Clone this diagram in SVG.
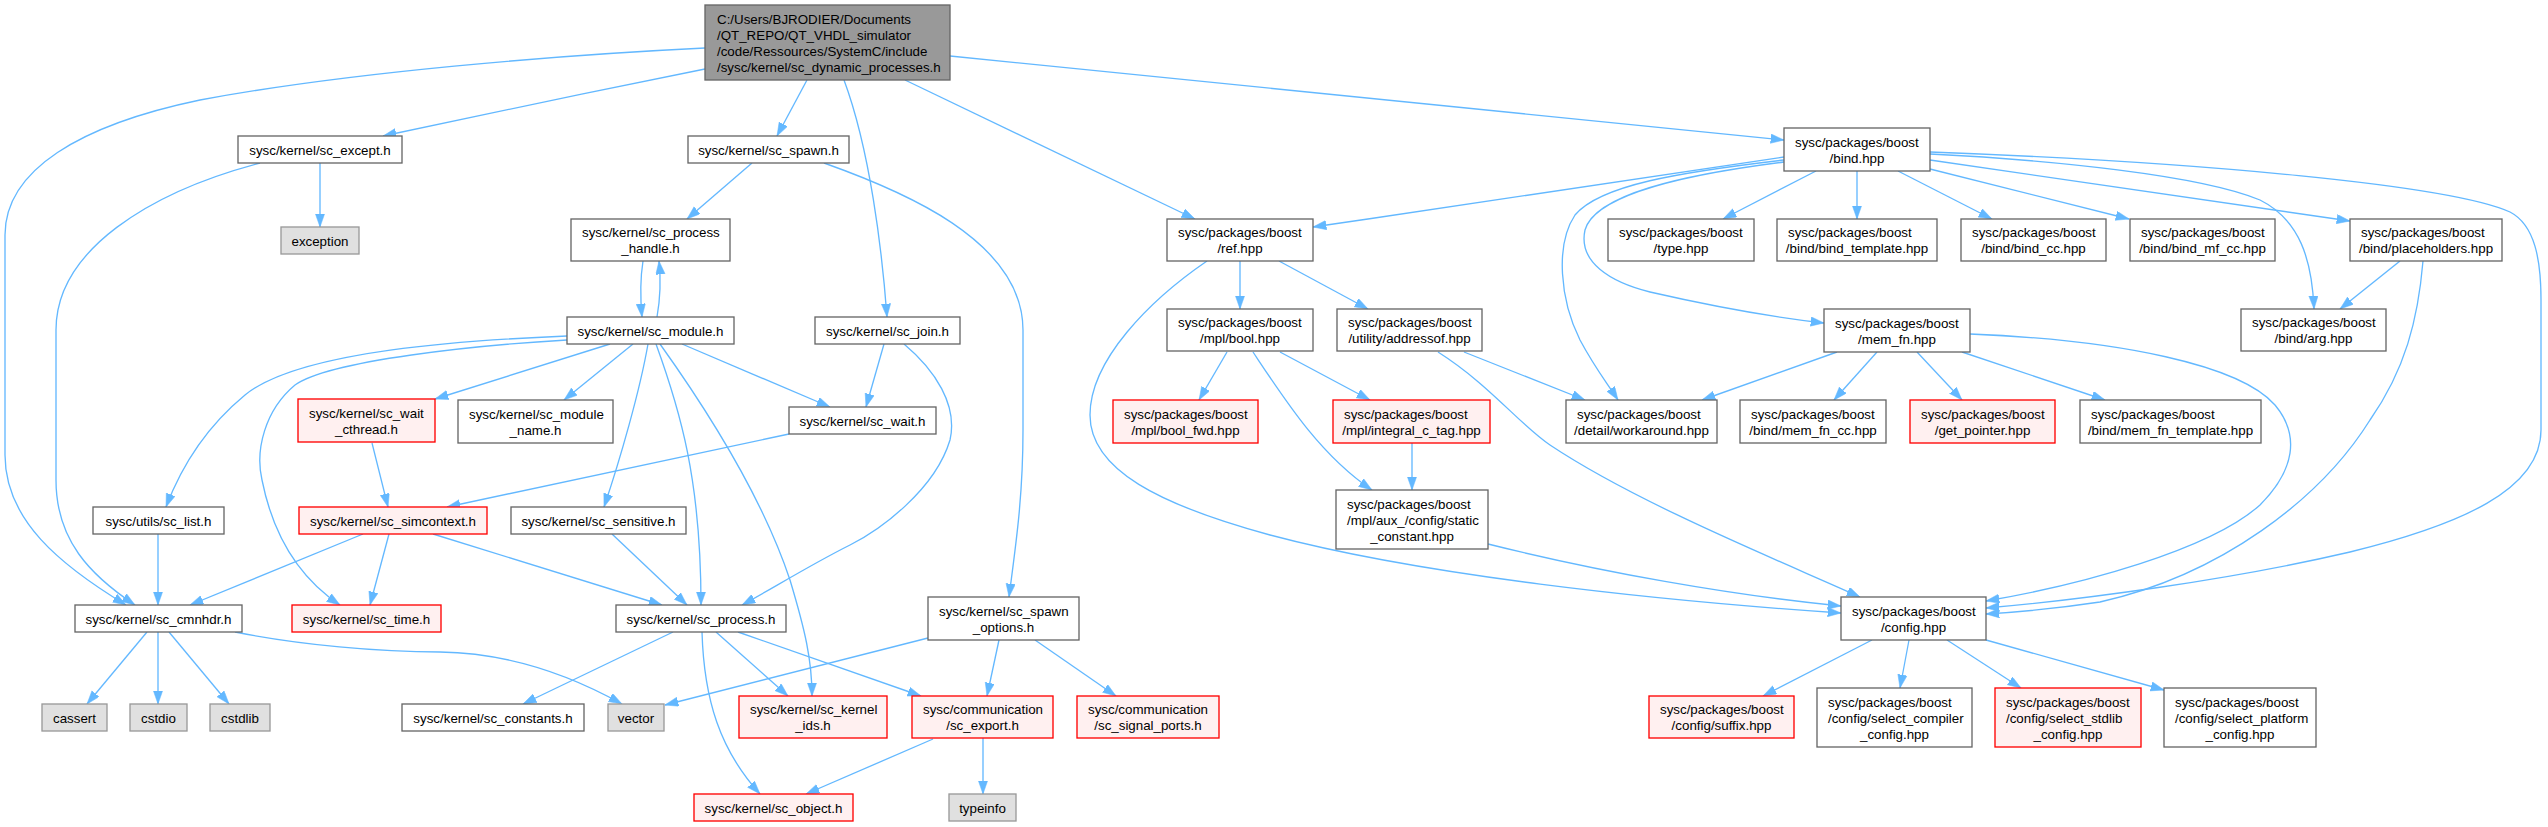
<svg xmlns="http://www.w3.org/2000/svg" width="2548" height="827" viewBox="0 0 2548 827">
<style>
text{font-family:"Liberation Sans",Arial,Helvetica,sans-serif;font-size:13.33px;fill:#000}
.c{text-anchor:middle}
rect{stroke-width:1.33}
.n rect{fill:#fff;stroke:#666}
.r rect{fill:#999;stroke:#666}
.g rect{fill:#e0e0e0;stroke:#999}
.t rect{fill:#fff0f0;stroke:#f00}
#edges path{fill:none;stroke:#63b8ff;stroke-width:1.33;marker-end:url(#a)}
</style>
<defs>
<marker id="a" markerUnits="userSpaceOnUse" markerWidth="14" markerHeight="10" refX="13.3" refY="4.67" orient="auto">
<path d="M0,0 L13.3,4.67 L0,9.33 Z" fill="#63b8ff" stroke="#63b8ff" stroke-width="0.5"/>
</marker>
</defs>
<rect width="2548" height="827" fill="#fff"/>
<g id="edges">
<path d="M705,48 C560,55 350,72 200,100 C80,125 5,170 5,235 L5,455 C5,520 60,565 126,605"/>
<path d="M705,69 C600,90 470,117 383,136"/>
<path d="M807,80 L777,136"/>
<path d="M844,80 C870,150 882,250 887,317"/>
<path d="M905,80 L1195,219"/>
<path d="M950,56 L1784,140"/>
<path d="M320,163 L320,227"/>
<path d="M260,163 C150,192 56,250 56,330 L56,480 C56,540 90,575 135,605"/>
<path d="M752,163 L687,219"/>
<path d="M824,163 C900,190 1023,240 1023,330 L1023,430 C1023,500 1015,550 1009,597"/>
<path d="M643,261 C640,280 640,295 642,317"/>
<path d="M657,317 C660,300 661,280 659,261"/>
<path d="M567,336 C470,340 300,350 245,395 C205,428 180,470 166,507"/>
<path d="M567,340 C480,345 330,360 295,385 C265,410 255,450 262,480 C272,530 295,575 340,605"/>
<path d="M610,344 L435,399"/>
<path d="M633,344 L564,400"/>
<path d="M648,344 C640,390 620,460 604,507"/>
<path d="M656,344 C680,410 701,480 701,605"/>
<path d="M660,344 C700,400 760,490 790,580 C805,630 812,660 812,696"/>
<path d="M682,344 L830,407"/>
<path d="M884,344 L866,407"/>
<path d="M904,344 C935,370 958,405 950,440 C935,490 880,530 850,545 C810,565 770,590 742,605"/>
<path d="M789,434 L447,507"/>
<path d="M372,443 L388,507"/>
<path d="M363,534 L190,605"/>
<path d="M389,534 L370,605"/>
<path d="M433,534 L662,605"/>
<path d="M158,534 L158,605"/>
<path d="M612,534 L687,605"/>
<path d="M147,632 L87,704"/>
<path d="M158,632 L158,704"/>
<path d="M169,632 L229,704"/>
<path d="M235,632 C300,645 380,652 440,652 C510,653 570,675 622,704"/>
<path d="M673,632 L523,704"/>
<path d="M716,632 L788,696"/>
<path d="M702,632 C704,700 720,750 760,794"/>
<path d="M738,632 L921,696"/>
<path d="M928,638 L665,705"/>
<path d="M999,640 L987,696"/>
<path d="M1035,640 L1116,696"/>
<path d="M933,739 L806,794"/>
<path d="M983,738 L983,794"/>
<path d="M1240,261 L1240,309"/>
<path d="M1279,261 L1368,309"/>
<path d="M1207,261 C1150,300 1090,360 1090,415 C1090,470 1160,505 1270,535 C1420,575 1650,600 1841,613"/>
<path d="M1227,352 L1199,400"/>
<path d="M1280,352 L1370,400"/>
<path d="M1253,352 C1285,400 1320,455 1372,490"/>
<path d="M1412,443 L1412,490"/>
<path d="M1488,544 C1600,572 1730,595 1841,606"/>
<path d="M1464,352 L1585,400"/>
<path d="M1438,352 C1490,385 1520,425 1550,445 C1640,505 1790,565 1860,597"/>
<path d="M1784,157 C1700,168 1500,200 1313,227"/>
<path d="M1784,160 C1680,172 1600,185 1575,215 C1555,245 1560,300 1580,340 C1595,368 1605,380 1618,400"/>
<path d="M1784,162 C1680,175 1595,195 1585,230 C1578,262 1610,282 1650,292 C1720,308 1780,318 1824,323"/>
<path d="M1816,171 L1723,219"/>
<path d="M1857,171 L1857,219"/>
<path d="M1898,171 L1992,219"/>
<path d="M1930,169 L2129,219"/>
<path d="M1930,160 L2350,221"/>
<path d="M1930,154 C2050,160 2200,175 2260,200 C2300,220 2312,260 2314,309"/>
<path d="M1930,152 C2200,162 2450,185 2510,212 C2535,225 2541,260 2541,300 L2541,430 C2541,490 2460,525 2350,552 C2230,580 2080,600 1986,608"/>
<path d="M1837,352 L1702,400"/>
<path d="M1877,352 L1834,400"/>
<path d="M1917,352 L1962,400"/>
<path d="M1962,352 L2105,400"/>
<path d="M1970,334 C2120,340 2240,365 2275,405 C2300,435 2295,470 2260,505 C2210,550 2080,585 1986,601"/>
<path d="M2400,261 L2340,309"/>
<path d="M2423,261 C2418,320 2405,370 2370,420 C2320,500 2220,575 2100,602 C2060,608 2020,612 1986,614"/>
<path d="M1872,640 L1763,696"/>
<path d="M1909,640 L1900,688"/>
<path d="M1947,640 L2021,688"/>
<path d="M1986,640 L2164,690"/>
</g>
<g id="n_root" class="r"><rect x="705" y="5" width="245" height="75"/><text x="717" y="23.5">C:/Users/BJRODIER/Documents</text><text x="717" y="39.5">/QT_REPO/QT_VHDL_simulator</text><text x="717" y="55.5">/code/Ressources/SystemC/include</text><text x="717" y="71.5">/sysc/kernel/sc_dynamic_processes.h</text></g>
<g id="n_except" class="n"><rect x="238" y="136" width="164" height="27"/><text class="c" x="320" y="154.5">sysc/kernel/sc_except.h</text></g>
<g id="n_exception" class="g"><rect x="281" y="227" width="78" height="27"/><text class="c" x="320" y="245.5">exception</text></g>
<g id="n_spawn" class="n"><rect x="688" y="136" width="161" height="27"/><text class="c" x="768.5" y="154.5">sysc/kernel/sc_spawn.h</text></g>
<g id="n_phandle" class="n"><rect x="571" y="219" width="159" height="42"/><text x="582" y="237">sysc/kernel/sc_process</text><text class="c" x="650.5" y="253">_handle.h</text></g>
<g id="n_module" class="n"><rect x="567" y="317" width="167" height="27"/><text class="c" x="650.5" y="335.5">sysc/kernel/sc_module.h</text></g>
<g id="n_join" class="n"><rect x="815" y="317" width="145" height="27"/><text class="c" x="887.5" y="335.5">sysc/kernel/sc_join.h</text></g>
<g id="n_wait" class="n"><rect x="789" y="407" width="147" height="27"/><text class="c" x="862.5" y="425.5">sysc/kernel/sc_wait.h</text></g>
<g id="n_waitc" class="t"><rect x="298" y="399" width="137" height="43"/><text x="309" y="417.5">sysc/kernel/sc_wait</text><text class="c" x="366.5" y="433.5">_cthread.h</text></g>
<g id="n_mname" class="n"><rect x="458" y="400" width="155" height="43"/><text x="469" y="418.5">sysc/kernel/sc_module</text><text class="c" x="535.5" y="434.5">_name.h</text></g>
<g id="n_list" class="n"><rect x="93" y="507" width="131" height="27"/><text class="c" x="158.5" y="525.5">sysc/utils/sc_list.h</text></g>
<g id="n_simctx" class="t"><rect x="299" y="507" width="188" height="27"/><text class="c" x="393" y="525.5">sysc/kernel/sc_simcontext.h</text></g>
<g id="n_sens" class="n"><rect x="511" y="507" width="175" height="27"/><text class="c" x="598.5" y="525.5">sysc/kernel/sc_sensitive.h</text></g>
<g id="n_cmnhdr" class="n"><rect x="75" y="605" width="167" height="27"/><text class="c" x="158.5" y="623.5">sysc/kernel/sc_cmnhdr.h</text></g>
<g id="n_time" class="t"><rect x="292" y="605" width="149" height="27"/><text class="c" x="366.5" y="623.5">sysc/kernel/sc_time.h</text></g>
<g id="n_process" class="n"><rect x="616" y="605" width="170" height="27"/><text class="c" x="701" y="623.5">sysc/kernel/sc_process.h</text></g>
<g id="n_sopts" class="n"><rect x="928" y="597" width="151" height="43"/><text x="939" y="615.5">sysc/kernel/sc_spawn</text><text class="c" x="1003.5" y="631.5">_options.h</text></g>
<g id="n_cassert" class="g"><rect x="42" y="704" width="65" height="27"/><text class="c" x="74.5" y="722.5">cassert</text></g>
<g id="n_cstdio" class="g"><rect x="130" y="704" width="57" height="27"/><text class="c" x="158.5" y="722.5">cstdio</text></g>
<g id="n_cstdlib" class="g"><rect x="210" y="704" width="60" height="27"/><text class="c" x="240" y="722.5">cstdlib</text></g>
<g id="n_const" class="n"><rect x="402" y="704" width="182" height="27"/><text class="c" x="493" y="722.5">sysc/kernel/sc_constants.h</text></g>
<g id="n_vector" class="g"><rect x="608" y="704" width="56" height="27"/><text class="c" x="636" y="722.5">vector</text></g>
<g id="n_kids" class="t"><rect x="739" y="696" width="148" height="42"/><text x="750" y="714">sysc/kernel/sc_kernel</text><text class="c" x="813" y="730">_ids.h</text></g>
<g id="n_export" class="t"><rect x="912" y="696" width="141" height="42"/><text x="923" y="714">sysc/communication</text><text class="c" x="982.5" y="730">/sc_export.h</text></g>
<g id="n_sigports" class="t"><rect x="1077" y="696" width="142" height="42"/><text x="1088" y="714">sysc/communication</text><text class="c" x="1148" y="730">/sc_signal_ports.h</text></g>
<g id="n_object" class="t"><rect x="694" y="794" width="159" height="27"/><text class="c" x="773.5" y="812.5">sysc/kernel/sc_object.h</text></g>
<g id="n_typeinfo" class="g"><rect x="949" y="794" width="67" height="27"/><text class="c" x="982.5" y="812.5">typeinfo</text></g>
<g id="n_ref" class="n"><rect x="1167" y="219" width="146" height="42"/><text x="1178" y="237">sysc/packages/boost</text><text class="c" x="1240" y="253">/ref.hpp</text></g>
<g id="n_mplbool" class="n"><rect x="1167" y="309" width="146" height="42"/><text x="1178" y="327">sysc/packages/boost</text><text class="c" x="1240" y="343">/mpl/bool.hpp</text></g>
<g id="n_boolfwd" class="t"><rect x="1113" y="400" width="145" height="43"/><text x="1124" y="418.5">sysc/packages/boost</text><text class="c" x="1185.5" y="434.5">/mpl/bool_fwd.hpp</text></g>
<g id="n_addrof" class="n"><rect x="1337" y="309" width="145" height="42"/><text x="1348" y="327">sysc/packages/boost</text><text class="c" x="1409.5" y="343">/utility/addressof.hpp</text></g>
<g id="n_ictag" class="t"><rect x="1333" y="400" width="157" height="43"/><text x="1344" y="418.5">sysc/packages/boost</text><text class="c" x="1411.5" y="434.5">/mpl/integral_c_tag.hpp</text></g>
<g id="n_static" class="n"><rect x="1336" y="490" width="152" height="59"/><text x="1347" y="508.5">sysc/packages/boost</text><text x="1347" y="524.5">/mpl/aux_/config/static</text><text class="c" x="1412" y="540.5">_constant.hpp</text></g>
<g id="n_bind" class="n"><rect x="1784" y="128" width="146" height="43"/><text x="1795" y="146.5">sysc/packages/boost</text><text class="c" x="1857" y="162.5">/bind.hpp</text></g>
<g id="n_type" class="n"><rect x="1608" y="219" width="146" height="42"/><text x="1619" y="237">sysc/packages/boost</text><text class="c" x="1681" y="253">/type.hpp</text></g>
<g id="n_bindtpl" class="n"><rect x="1777" y="219" width="160" height="42"/><text x="1788" y="237">sysc/packages/boost</text><text class="c" x="1857" y="253">/bind/bind_template.hpp</text></g>
<g id="n_bindcc" class="n"><rect x="1961" y="219" width="145" height="42"/><text x="1972" y="237">sysc/packages/boost</text><text class="c" x="2033.5" y="253">/bind/bind_cc.hpp</text></g>
<g id="n_bindmfcc" class="n"><rect x="2130" y="219" width="145" height="42"/><text x="2141" y="237">sysc/packages/boost</text><text class="c" x="2202.5" y="253">/bind/bind_mf_cc.hpp</text></g>
<g id="n_placeh" class="n"><rect x="2350" y="219" width="152" height="42"/><text x="2361" y="237">sysc/packages/boost</text><text class="c" x="2426" y="253">/bind/placeholders.hpp</text></g>
<g id="n_memfn" class="n"><rect x="1824" y="309" width="146" height="43"/><text x="1835" y="327.5">sysc/packages/boost</text><text class="c" x="1897" y="343.5">/mem_fn.hpp</text></g>
<g id="n_arg" class="n"><rect x="2241" y="309" width="145" height="42"/><text x="2252" y="327">sysc/packages/boost</text><text class="c" x="2313.5" y="343">/bind/arg.hpp</text></g>
<g id="n_workar" class="n"><rect x="1566" y="400" width="151" height="43"/><text x="1577" y="418.5">sysc/packages/boost</text><text class="c" x="1641.5" y="434.5">/detail/workaround.hpp</text></g>
<g id="n_memfncc" class="n"><rect x="1740" y="400" width="146" height="43"/><text x="1751" y="418.5">sysc/packages/boost</text><text class="c" x="1813" y="434.5">/bind/mem_fn_cc.hpp</text></g>
<g id="n_getptr" class="t"><rect x="1910" y="400" width="145" height="43"/><text x="1921" y="418.5">sysc/packages/boost</text><text class="c" x="1982.5" y="434.5">/get_pointer.hpp</text></g>
<g id="n_memfntpl" class="n"><rect x="2080" y="400" width="181" height="43"/><text x="2091" y="418.5">sysc/packages/boost</text><text class="c" x="2170.5" y="434.5">/bind/mem_fn_template.hpp</text></g>
<g id="n_config" class="n"><rect x="1841" y="597" width="145" height="43"/><text x="1852" y="615.5">sysc/packages/boost</text><text class="c" x="1913.5" y="631.5">/config.hpp</text></g>
<g id="n_suffix" class="t"><rect x="1649" y="696" width="145" height="42"/><text x="1660" y="714">sysc/packages/boost</text><text class="c" x="1721.5" y="730">/config/suffix.hpp</text></g>
<g id="n_selcomp" class="n"><rect x="1817" y="688" width="155" height="59"/><text x="1828" y="706.5">sysc/packages/boost</text><text x="1828" y="722.5">/config/select_compiler</text><text class="c" x="1894.5" y="738.5">_config.hpp</text></g>
<g id="n_selstd" class="t"><rect x="1995" y="688" width="146" height="59"/><text x="2006" y="706.5">sysc/packages/boost</text><text x="2006" y="722.5">/config/select_stdlib</text><text class="c" x="2068" y="738.5">_config.hpp</text></g>
<g id="n_selplat" class="n"><rect x="2164" y="688" width="152" height="59"/><text x="2175" y="706.5">sysc/packages/boost</text><text x="2175" y="722.5">/config/select_platform</text><text class="c" x="2240" y="738.5">_config.hpp</text></g>
</svg>
